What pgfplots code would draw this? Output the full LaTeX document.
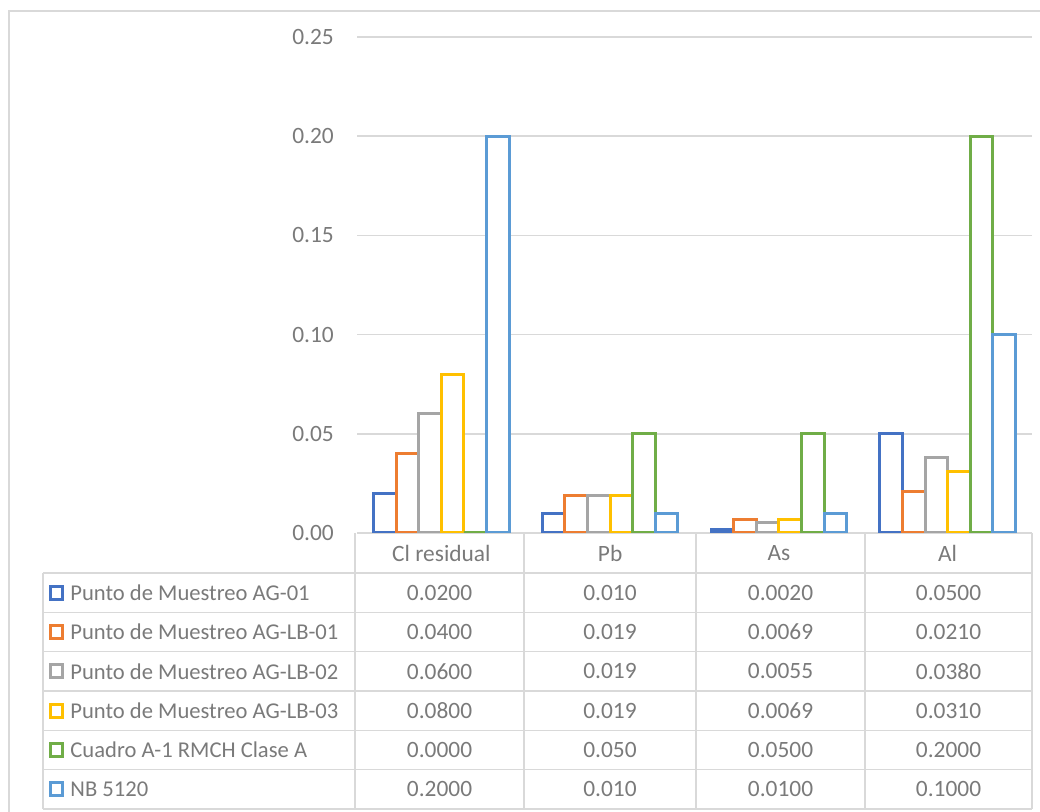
\documentclass[border=0pt]{standalone}
\usepackage{fontspec}
\setmainfont{Carlito}
\usepackage{pgfplots}
\pgfplotsset{compat=1.18}

\definecolor{sA}{HTML}{4472C4}
\definecolor{sB}{HTML}{ED7D31}
\definecolor{sC}{HTML}{A5A5A5}
\definecolor{sD}{HTML}{FFC000}
\definecolor{sE}{HTML}{70AD47}
\definecolor{sF}{HTML}{5B9BD5}
\definecolor{txt}{HTML}{7A7A7A}
\definecolor{rule}{HTML}{D9D9D9}

\begin{document}
\fontsize{11.7}{14}\selectfont
\begin{tikzpicture}
% chart frame and data table, laid out in pixel units
\begin{scope}[x=0.5pt,y=-0.5pt]
  \useasboundingbox (0,0) rectangle (1040,812);
  \draw[rule, line width=0.75pt] (9,840) -- (9,11) -- (1060,11);
  \foreach \yy in {573,612.33,651.67,691,730.33,769.67,809}
    \draw[rule, line width=0.75pt] (43,\yy) -- (1032,\yy);
  \draw[rule, line width=0.75pt] (43,573) -- (43,809);
  \foreach \xx in {355,524,696,865,1032}
    \draw[rule, line width=0.75pt] (\xx,533) -- (\xx,809);
  \foreach \c/\name/\va/\vb/\vc/\vd [count=\i] in {
      sA/{Punto de Muestreo AG-01}/0.0200/0.010/0.0020/0.0500,
      sB/{Punto de Muestreo AG-LB-01}/0.0400/0.019/0.0069/0.0210,
      sC/{Punto de Muestreo AG-LB-02}/0.0600/0.019/0.0055/0.0380,
      sD/{Punto de Muestreo AG-LB-03}/0.0800/0.019/0.0069/0.0310,
      sE/{Cuadro A-1 RMCH Clase A}/0.0000/0.050/0.0500/0.2000,
      sF/{NB 5120}/0.2000/0.010/0.0100/0.1000} {
    \pgfmathsetmacro\yc{573+(\i-0.5)*39.33}
    \draw[\c, line width=1.5pt] (50,\yc-6.5) rectangle (62.5,\yc+6.5);
    \node[anchor=west, text=txt, inner sep=0pt,
          font=\fontsize{11.3}{14}\selectfont] at (70,\yc) {\name};
    \node[text=txt, inner sep=0pt] at (439.5,\yc) {\va};
    \node[text=txt, inner sep=0pt] at (610,\yc) {\vb};
    \node[text=txt, inner sep=0pt] at (780.5,\yc) {\vc};
    \node[text=txt, inner sep=0pt] at (948.5,\yc) {\vd};
  }
\end{scope}

\begin{axis}[
  at={(178.5pt,-266.5pt)}, anchor=south west,
  scale only axis, width=337.5pt, height=248pt,
  xmin=-0.5, xmax=3.5, ymin=0, ymax=0.25,
  xtick={0,1,2,3}, xticklabels={Cl residual,Pb,As,Al},
  ytick={0,0.05,0.1,0.15,0.2,0.25},
  axis line style={draw=none}, major tick length=0pt,
  ymajorgrids, grid style={rule, line width=0.75pt},
  tick label style={text=txt, font=\fontsize{11.7}{14}\selectfont},
  xticklabel style={anchor=center, yshift=-10pt},
  yticklabel style={anchor=east, xshift=-7.5pt,
    /pgf/number format/.cd, fixed, fixed zerofill, precision=2,
    assume math mode=true},
  ybar=0pt, bar width=11.3pt,
  every axis plot/.append style={fill=white, line width=1.5pt},
]
\addplot[draw=sA] coordinates {(0,0.0200) (1,0.010) (2,0.0020) (3,0.0500)};
\addplot[draw=sB] coordinates {(0,0.0400) (1,0.019) (2,0.0069) (3,0.0210)};
\addplot[draw=sC] coordinates {(0,0.0600) (1,0.019) (2,0.0055) (3,0.0380)};
\addplot[draw=sD] coordinates {(0,0.0800) (1,0.019) (2,0.0069) (3,0.0310)};
\addplot[draw=sE] coordinates {(0,0.0000) (1,0.050) (2,0.0500) (3,0.2000)};
\addplot[draw=sF] coordinates {(0,0.2000) (1,0.010) (2,0.0100) (3,0.1000)};
\end{axis}
\end{tikzpicture}
\end{document}
